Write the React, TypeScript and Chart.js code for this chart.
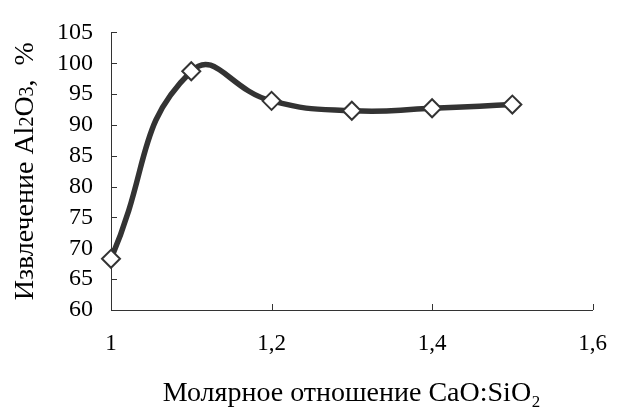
import React, { useEffect, useRef } from "react";
import { Chart, registerables } from "chart.js";

Chart.register(...registerables);

const xValues = [1.0, 1.1, 1.2, 1.3, 1.4, 1.5];
const yValues = [68.3, 98.7, 93.9, 92.3, 92.7, 93.3];
const xTicks = [1.0, 1.2, 1.4, 1.6];
const yTitleParts: [string, boolean][] = [
  ["Извлечение Al", false],
  ["2", true],
  ["O", false],
  ["3", true],
  [",  %", false],
];
const xTitle = "Молярное отношение CaO:SiO₂";

const FONT = "Liberation Serif";

const innerTicks = {
  id: "innerTicks",
  afterDraw(chart: any) {
    const { ctx, chartArea, scales } = chart;
    ctx.save();
    ctx.strokeStyle = "#333";
    ctx.lineWidth = 1;
    xTicks.forEach((v) => {
      const px = Math.round(scales.x.getPixelForValue(v)) + 0.5;
      ctx.beginPath();
      ctx.moveTo(px, chartArea.bottom);
      ctx.lineTo(px, chartArea.bottom - 6);
      ctx.stroke();
    });
    scales.y.ticks.forEach((t: any) => {
      const py = Math.round(scales.y.getPixelForValue(t.value)) + 0.5;
      ctx.beginPath();
      ctx.moveTo(chartArea.left, py);
      ctx.lineTo(chartArea.left + 6, py);
      ctx.stroke();
    });
    ctx.restore();
  },
};

const yTitlePlugin = {
  id: "yTitlePlugin",
  afterDraw(chart: any) {
    const { ctx, chartArea } = chart;
    const size = 28;
    const small = 20;
    ctx.save();
    ctx.fillStyle = "#000";
    ctx.textBaseline = "alphabetic";
    ctx.textAlign = "left";
    let total = 0;
    const widths = yTitleParts.map(([t, s]) => {
      ctx.font = `${s ? small : size}px "${FONT}"`;
      const w = ctx.measureText(t).width;
      total += w;
      return w;
    });
    const cy = (chartArea.top + chartArea.bottom) / 2;
    ctx.translate(33, cy);
    ctx.rotate(-Math.PI / 2);
    let x = -total / 2;
    yTitleParts.forEach(([t, s], i) => {
      ctx.font = `${s ? small : size}px "${FONT}"`;
      ctx.fillText(t, x, 0);
      x += widths[i];
    });
    ctx.restore();
  },
};

export default function App() {
  const ref = useRef<HTMLCanvasElement | null>(null);
  useEffect(() => {
    document.body.style.margin = "0";
    const chart = new Chart(ref.current!, {
      type: "line",
      data: {
        datasets: [
          {
            data: xValues.map((x, i) => ({ x, y: yValues[i] })),
            borderColor: "#333",
            borderWidth: 5.5,
            tension: 0.5,
            pointStyle: "rectRot",
            pointRadius: 9,
            pointBorderWidth: 2,
            pointBorderColor: "#333",
            pointBackgroundColor: "#fff",
            clip: false as any,
          },
        ],
      },
      options: {
        animation: false,
        responsive: true,
        maintainAspectRatio: false,
        plugins: { legend: { display: false }, tooltip: { enabled: false } },
        layout: { padding: { top: 20, right: 18, left: 0, bottom: 0 } },
        scales: {
          x: {
            type: "linear",
            min: 1,
            max: 1.6,
            afterFit: (s: any) => {
              s.height = 98;
            },
            afterBuildTicks: (s: any) => {
              s.ticks = xTicks.map((v) => ({ value: v }));
            },
            ticks: {
              color: "#000",
              padding: 20,
              autoSkip: false,
              maxRotation: 0,
              font: { family: FONT, size: 23 },
              callback: (v: any) => {
                const n = Math.round(Number(v) * 10) / 10;
                return Number.isInteger(n) ? String(n) : n.toFixed(1).replace(".", ",");
              },
            },
            grid: { display: true, drawOnChartArea: false, drawTicks: false },
            border: { display: true, color: "#333", width: 1 },
            title: {
              display: true,
              text: xTitle,
              color: "#000",
              font: { family: FONT, size: 28, lineHeight: 1 },
              padding: { top: 0, bottom: 0 },
            },
          },
          y: {
            min: 60,
            max: 105,
            afterFit: (s: any) => {
              s.width = 111;
            },
            ticks: {
              stepSize: 5,
              autoSkip: false,
              color: "#000",
              padding: 18,
              font: { family: FONT, size: 24 },
            },
            grid: { display: true, drawOnChartArea: false, drawTicks: false },
            border: { display: true, color: "#333", width: 1 },
            title: { display: false },
          },
        },
      },
      plugins: [innerTicks, yTitlePlugin],
    });
    return () => chart.destroy();
  }, []);
  return (
    <div style={{ width: 627, height: 408, position: "relative" }}>
      <canvas ref={ref} />
    </div>
  );
}
